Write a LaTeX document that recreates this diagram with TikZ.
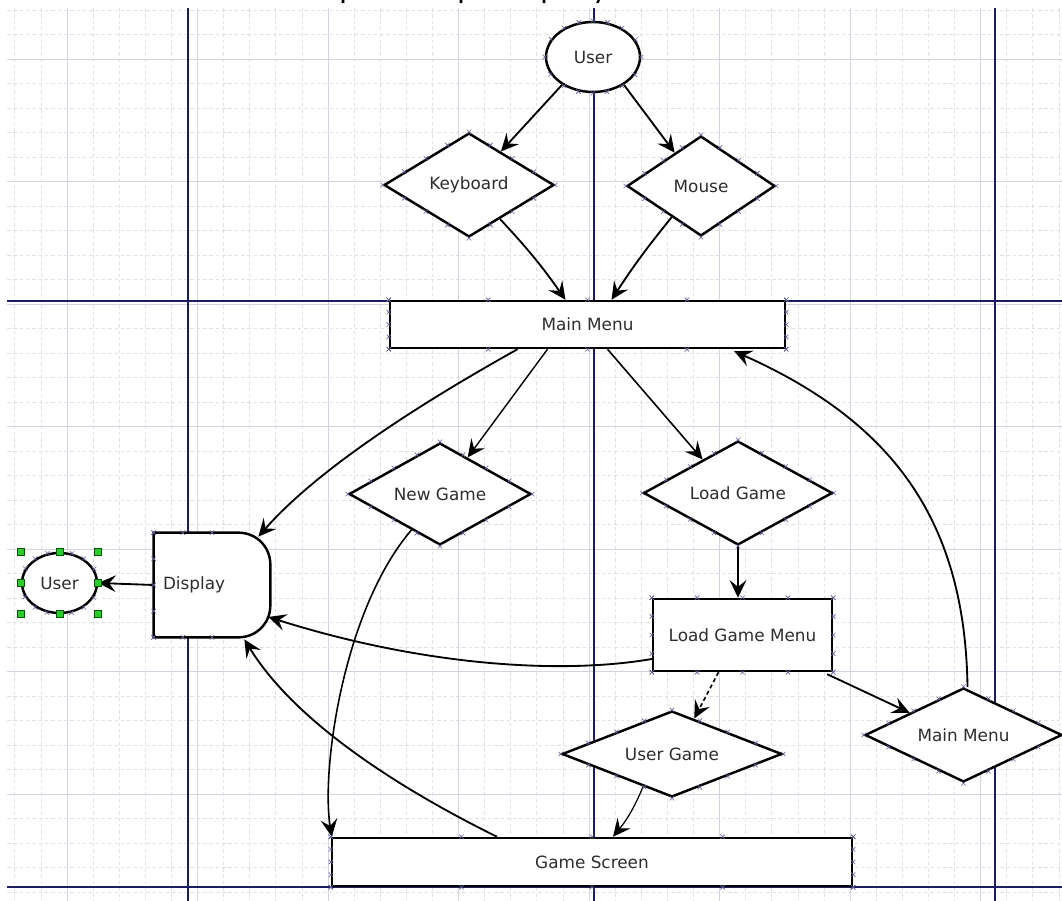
\documentclass[tikz,border=0pt]{standalone}
\usepackage{fontspec}
\setmainfont{DejaVu Sans}
\newfontfamily\headfont{Carlito}
\usetikzlibrary{shapes.geometric,arrows.meta,calc}

\definecolor{gridminor}{RGB}{224,224,230}
\definecolor{gridmajor}{RGB}{212,212,224}
\definecolor{pageline}{RGB}{28,28,98}
\definecolor{cpoint}{RGB}{96,96,150}
\definecolor{labelc}{RGB}{45,45,45}
\definecolor{handlefill}{RGB}{40,205,40}

\tikzset{
  gminor/.style={gridminor, line width=0.35pt, dash pattern=on 2pt off 1.6pt},
  gmajor/.style={gridmajor, line width=0.45pt},
  pagebreak/.style={pageline, line width=0.9pt},
  outline/.style={draw=black, line width=1.4pt, fill=white, text=labelc,
    font=\fontsize{9.6}{11}\selectfont, inner sep=0pt},
  box/.style={outline, rectangle},
  dia/.style={outline, diamond},
  ell/.style={outline, ellipse},
  lbl/.style={text=labelc, font=\fontsize{9.6}{11}\selectfont, inner sep=0pt},
  conn/.style={line width=1.05pt, -{Stealth[length=10pt,width=9.5pt,inset=3.8pt]}},
  handle/.style={rectangle, fill=handlefill, draw=green!35!black, line width=0.4pt,
    minimum size=0.14cm, inner sep=0pt},
  cx/.pic={\draw[cpoint, line width=0.35pt] (-2.2,-2.2) -- (2.2,2.2) (-2.2,2.2) -- (2.2,-2.2);}
}

% connection-point crosses along the sides of a box
\newcommand\boxpoints[1]{%
  \foreach \t in {0,0.25,0.5,0.75,1}{%
    \pic at ($(#1.north west)!\t!(#1.north east)$) {cx};
    \pic at ($(#1.south west)!\t!(#1.south east)$) {cx};
    \pic at ($(#1.north west)!\t!(#1.south west)$) {cx};
    \pic at ($(#1.north east)!\t!(#1.south east)$) {cx};}}
% connection-point crosses along the edges of a diamond
\newcommand\diapoints[1]{%
  \foreach \a/\b in {north/east,east/south,south/west,west/north}{%
    \foreach \t in {0,0.25,0.5,0.75}{%
      \pic at ($(#1.\a)!\t!(#1.\b)$) {cx};}}}
% connection-point crosses round an ellipse
\newcommand\ellpoints[1]{%
  \foreach \g in {0,22.5,...,337.5}{\pic at (#1.\g) {cx};}}

\begin{document}
\begin{tikzpicture}[x=0.02cm, y=-0.02cm]
\useasboundingbox (0,0) rectangle (1062,901);
\clip (0,0) rectangle (1062,901);
\fill[white] (0,0) rectangle (1062,901);

% heading line above the sheet, mostly cut off
\foreach \hx/\ch in {348/p, 466/p, 549/p, 600/y}{
  \node[anchor=base, inner sep=0pt, font=\headfont\fontsize{18}{20}\selectfont] at (\hx,-1) {\ch};}

% drawing grid
\foreach \j in {-2,...,38}{\draw[gminor] ({67+26.1*\j},8) -- ({67+26.1*\j},901);}
\foreach \j in {-2,...,34}{\draw[gminor] (7,{59+24.5*\j}) -- (1062,{59+24.5*\j});}
\foreach \j in {0,...,7}{\draw[gmajor] ({67+130.5*\j},8) -- ({67+130.5*\j},901);}
\foreach \j in {0,...,6}{\draw[gmajor] (7,{59+122.5*\j}) -- (1062,{59+122.5*\j});}

% page boundaries
\draw[pagebreak] (188,8) -- (188,901);
\draw[pagebreak] (594,8) -- (594,901);
\draw[pagebreak] (995,8) -- (995,901);
\draw[pagebreak] (7,301) -- (1062,301);
\draw[pagebreak] (7,887) -- (1062,887);

% nodes
\node[ell, minimum width=1.88cm, minimum height=1.40cm] (userT) at (593,57) {User};
\node[dia, minimum width=3.40cm, minimum height=2.08cm, shape aspect=1.6] (kbd) at (469,185) {Keyboard};
\node[dia, minimum width=2.96cm, minimum height=2.00cm, shape aspect=1.5] (mouse) at (701,186) {Mouse};
\node[box, minimum width=7.90cm, minimum height=0.94cm] (mm) at (587.5,324.5) {Main Menu};
\node[dia, minimum width=3.64cm, minimum height=2.04cm, shape aspect=1.8] (newg) at (440,494) {New Game};
\node[dia, minimum width=3.78cm, minimum height=2.08cm, shape aspect=1.8] (loadg) at (738,493) {Load Game};
\node[box, minimum width=3.58cm, minimum height=1.44cm] (lgm) at (742.5,635) {Load Game Menu};
\node[dia, minimum width=4.40cm, minimum height=1.72cm, shape aspect=2.5] (ug) at (672,754) {User Game};
\node[dia, minimum width=3.94cm, minimum height=1.88cm, shape aspect=2.1] (mmd) at (963.5,735) {Main Menu};
\node[box, minimum width=10.40cm, minimum height=0.96cm] (gs) at (592,862) {Game Screen};
\node[ell, minimum width=1.50cm, minimum height=1.20cm] (userL) at (59.5,583) {User};

% display shape: flat left side, rounded right side
\node[rectangle, minimum width=2.32cm, minimum height=2.08cm, inner sep=0pt] (disp) at (212,585) {};
\draw[line width=1.4pt, fill=white]
  (disp.south west) -- (disp.north west) -- ($(disp.north east)+(-32,0)$)
  .. controls ($(disp.north east)+(-14,0)$) and ($(disp.north east)+(0,14)$) .. ($(disp.north east)+(0,32)$)
  -- ($(disp.south east)+(0,-32)$)
  .. controls ($(disp.south east)+(0,-14)$) and ($(disp.south east)+(-14,0)$) .. ($(disp.south east)+(-32,0)$)
  -- cycle;
\node[lbl, anchor=west] (displbl) at ($(disp.west)+(9,0)$) {Display};

% connectors
\draw[conn] (userT.222) -- ($(kbd.north)!0.37!(kbd.east)$);
\draw[conn] (userT.-42) -- ($(mouse.north)!0.35!(mouse.west)$);
\draw[conn] ($(kbd.east)!0.64!(kbd.south)$) to[bend left=4] ($(mm.north)+(-22,0)$);
\draw[conn] ($(mouse.south)!0.39!(mouse.west)$) to[bend right=3] ($(mm.north)+(24,0)$);
\draw[conn] ($(mm.south)+(-70,0)$)
  .. controls ($(mm.south)+(-118,27)$) and ($(disp.north east)+(60,-78)$) .. ($(disp.north east)+(-12,4)$);
\draw[conn, line width=0.8pt] ($(mm.south)+(-40,0)$) -- ($(newg.north)!0.3!(newg.east)$);
\draw[conn, line width=0.9pt] ($(mm.south)+(20,0)$) -- ($(loadg.north)!0.37!(loadg.west)$);
\draw[conn] (loadg.south) -- (loadg.south |- lgm.north);
\draw[conn] ($(lgm.west)+(0,24)$)
  .. controls ($(lgm.west)+(-93,40)$) and ($(disp.east)+(150,80)$) .. ($(disp.east)+(-2,32)$);
\draw[conn] ($(gs.north)+(-95,0)$)
  .. controls ($(gs.north)+(-172,-38)$) and ($(disp.south east)+(30,93)$) .. ($(disp.south east)+(-26,2)$);
\draw[conn, line width=0.9pt] ($(newg.west)!0.69!(newg.south)$)
  .. controls ($(gs.north west)+(13,-228)$) and ($(gs.north west)+(-10,-68)$) .. ($(gs.north west)+(1,0)$);
\draw[conn, line width=0.9pt, dash pattern=on 2.3pt off 1.7pt] ($(lgm.south)+(-24,0)$) -- ($(ug.north)!0.2!(ug.east)$);
\draw[conn, line width=0.7pt] ($(ug.west)!0.74!(ug.south)$) to[bend left=8] ($(gs.north)+(21,0)$);
\draw[conn] ($(lgm.south east)+(-6,2)$) -- ($(mmd.west)!0.46!(mmd.north)$);
\draw[conn] ($(mmd.north)+(4,0)$)
  .. controls ($(mmd.north)+(1.5,-168)$) and ($(mm.south east)+(105,72)$) .. ($(mm.south east)+(-52,2)$);
\draw[conn] (disp.west) -- (userL.east);

% connection points
\ellpoints{userT}
\ellpoints{userL}
\diapoints{kbd}
\diapoints{mouse}
\diapoints{newg}
\diapoints{loadg}
\diapoints{ug}
\diapoints{mmd}
\boxpoints{mm}
\boxpoints{lgm}
\boxpoints{gs}
\foreach \t in {0,0.25,0.5}{\pic at ($(disp.north west)!\t!(disp.north east)$) {cx};
  \pic at ($(disp.south west)!\t!(disp.south east)$) {cx};}
\foreach \t in {0,0.25,0.5,0.75,1}{\pic at ($(disp.north west)!\t!(disp.south west)$) {cx};}

% selection handles round the left user
\node[handle] at (userL.west |- userL.north) {};
\node[handle] at (userL.north) {};
\node[handle] at (userL.east |- userL.north) {};
\node[handle] at (userL.west) {};
\node[handle] at (userL.east) {};
\node[handle] at (userL.west |- userL.south) {};
\node[handle] at (userL.south) {};
\node[handle] at (userL.east |- userL.south) {};
\end{tikzpicture}
\end{document}
